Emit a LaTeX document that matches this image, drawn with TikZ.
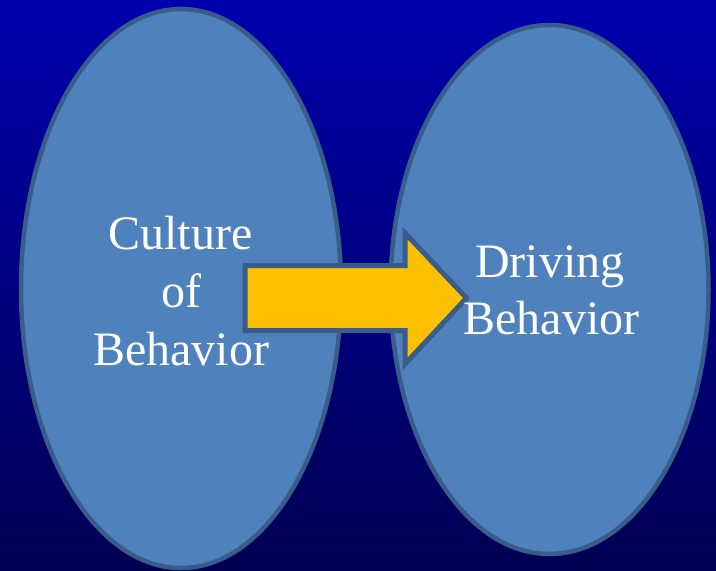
\documentclass[tikz,border=0pt]{standalone}
\usepackage{fontspec}
\setmainfont{Liberation Serif}
\usetikzlibrary{shapes.geometric}
\definecolor{bgtop}{RGB}{0,0,174}
\definecolor{bgbot}{RGB}{0,0,82}
\definecolor{ellfill}{RGB}{79,129,189}
\definecolor{ellline}{RGB}{56,93,138}
\definecolor{arrfill}{RGB}{255,192,0}
\begin{document}
\begin{tikzpicture}[x=1pt,y=-1pt,
  bubble/.style={ellipse, draw=ellline, fill=ellfill, line width=4.5pt, inner sep=0pt},
  bigarrow/.style={draw=ellline, fill=arrfill, line width=5pt, line join=miter},
  txt/.style={text=white, font=\fontsize{48}{57}\selectfont, anchor=base, inner sep=0pt}]
\shade[top color=bgtop, bottom color=bgbot] (0,0) rectangle (716,571);
\useasboundingbox (0,0) rectangle (716,571);
\node[bubble, minimum width=320pt, minimum height=559pt] (culture) at (181,288.5) {};
\node[bubble, minimum width=318pt, minimum height=529pt] (driving) at (549.5,289.5) {};
\draw[bigarrow] (245,265.5) -- (405,265.5) -- (405,233) -- (466.5,298) -- (405,364) -- (405,330.5) -- (245,330.5) -- cycle;
\node[txt] (c1) at (180.5,249) {Culture};
\node[txt] (c2) at (181,307) {of};
\node[txt] (c3) at (181,365) {Behavior};
\node[txt] (d1) at (550,277) {Driving};
\node[txt] (d2) at (551.5,334) {Behavior};
\end{tikzpicture}
\end{document}
